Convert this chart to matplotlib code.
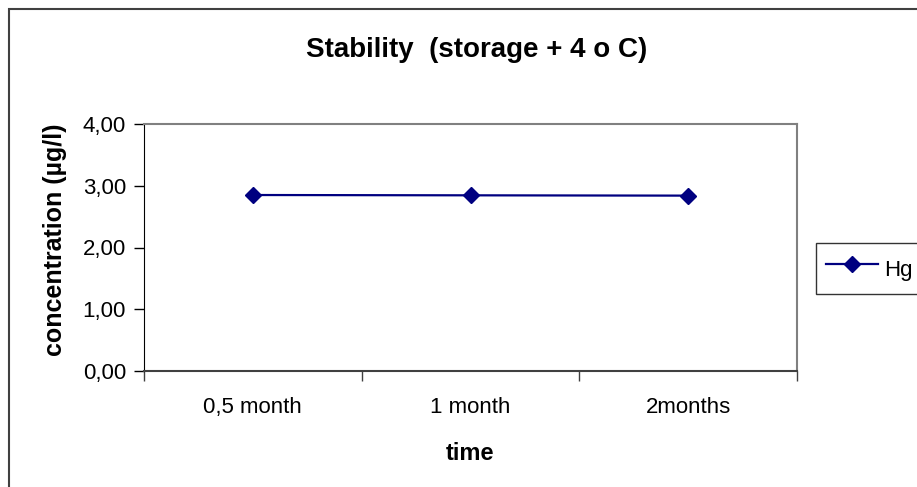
import matplotlib as mpl
mpl.use('Agg')
import matplotlib.pyplot as plt
from matplotlib.patches import Rectangle
from matplotlib.ticker import FuncFormatter, FixedLocator

plt.rcParams['font.family'] = ['Liberation Sans', 'DejaVu Sans']

categories = ['0,5 month', '1 month', '2months']
hg_values = [2.85, 2.845, 2.84]
y_ticks = [0, 1, 2, 3, 4]

fig = plt.figure(figsize=(9.17, 4.87), dpi=100)
ax = fig.add_axes([144 / 917, 1 - 371 / 487, (797 - 144) / 917, (371 - 124) / 487])

x = list(range(len(categories)))
ax.plot(x, hg_values, color='#000080', lw=1.6, marker='D', ms=8.5, label='Hg')

ax.set_xlim(-0.5, len(categories) - 0.5)
ax.set_ylim(0, 4)
ax.set_yticks(y_ticks)
ax.yaxis.set_major_formatter(FuncFormatter(lambda v, p: f'{v:.2f}'.replace('.', ',')))
ax.tick_params(axis='y', direction='out', length=7, width=1, labelsize=16, pad=6)

# boundaries get the ticks, centres get the labels
ax.xaxis.set_major_locator(FixedLocator([i - 0.5 for i in range(len(categories) + 1)]))
ax.xaxis.set_major_formatter(FuncFormatter(lambda v, p: ''))
ax.xaxis.set_minor_locator(FixedLocator(x))
ax.set_xticklabels(categories, minor=True)
ax.tick_params(axis='x', which='major', direction='out', length=7, width=1, color='#404040')
ax.tick_params(axis='x', which='minor', length=0, labelsize=16, pad=19)

for s in ['top', 'right']:
    ax.spines[s].set_color('#808080')
    ax.spines[s].set_linewidth(1.5)
ax.spines['left'].set_color('black')
ax.spines['bottom'].set_color('#404040')
ax.spines['bottom'].set_linewidth(1.5)

fig.text(470 / 917, 1 - 454 / 487, 'time', fontsize=17, fontweight='bold',
         ha='center', va='center')
fig.text(55 / 917, 1 - 240 / 487, 'concentration (µg/l)', fontsize=18, fontweight='bold',
         ha='center', va='center', rotation=90)

fig.text(477 / 917, 1 - 50 / 487, 'Stability  (storage + 4 o C)', fontsize=20,
         fontweight='bold', ha='center', va='center')

leg = fig.legend(loc='center left', bbox_to_anchor=(816 / 917, 1 - 268.5 / 487),
                 fontsize=16, frameon=True, fancybox=False, borderpad=0.45,
                 handlelength=2.35, handleheight=1.8, handletextpad=0.27,
                 borderaxespad=0)
leg.get_frame().set_edgecolor('black')
leg.get_frame().set_linewidth(1.0)

fig.add_artist(Rectangle((9 / 917, -0.1), 1.2, 1.1 - 9 / 487, transform=fig.transFigure,
                         fill=False, edgecolor='#404040', lw=1.5))

fig.savefig('out.png', dpi=100)
